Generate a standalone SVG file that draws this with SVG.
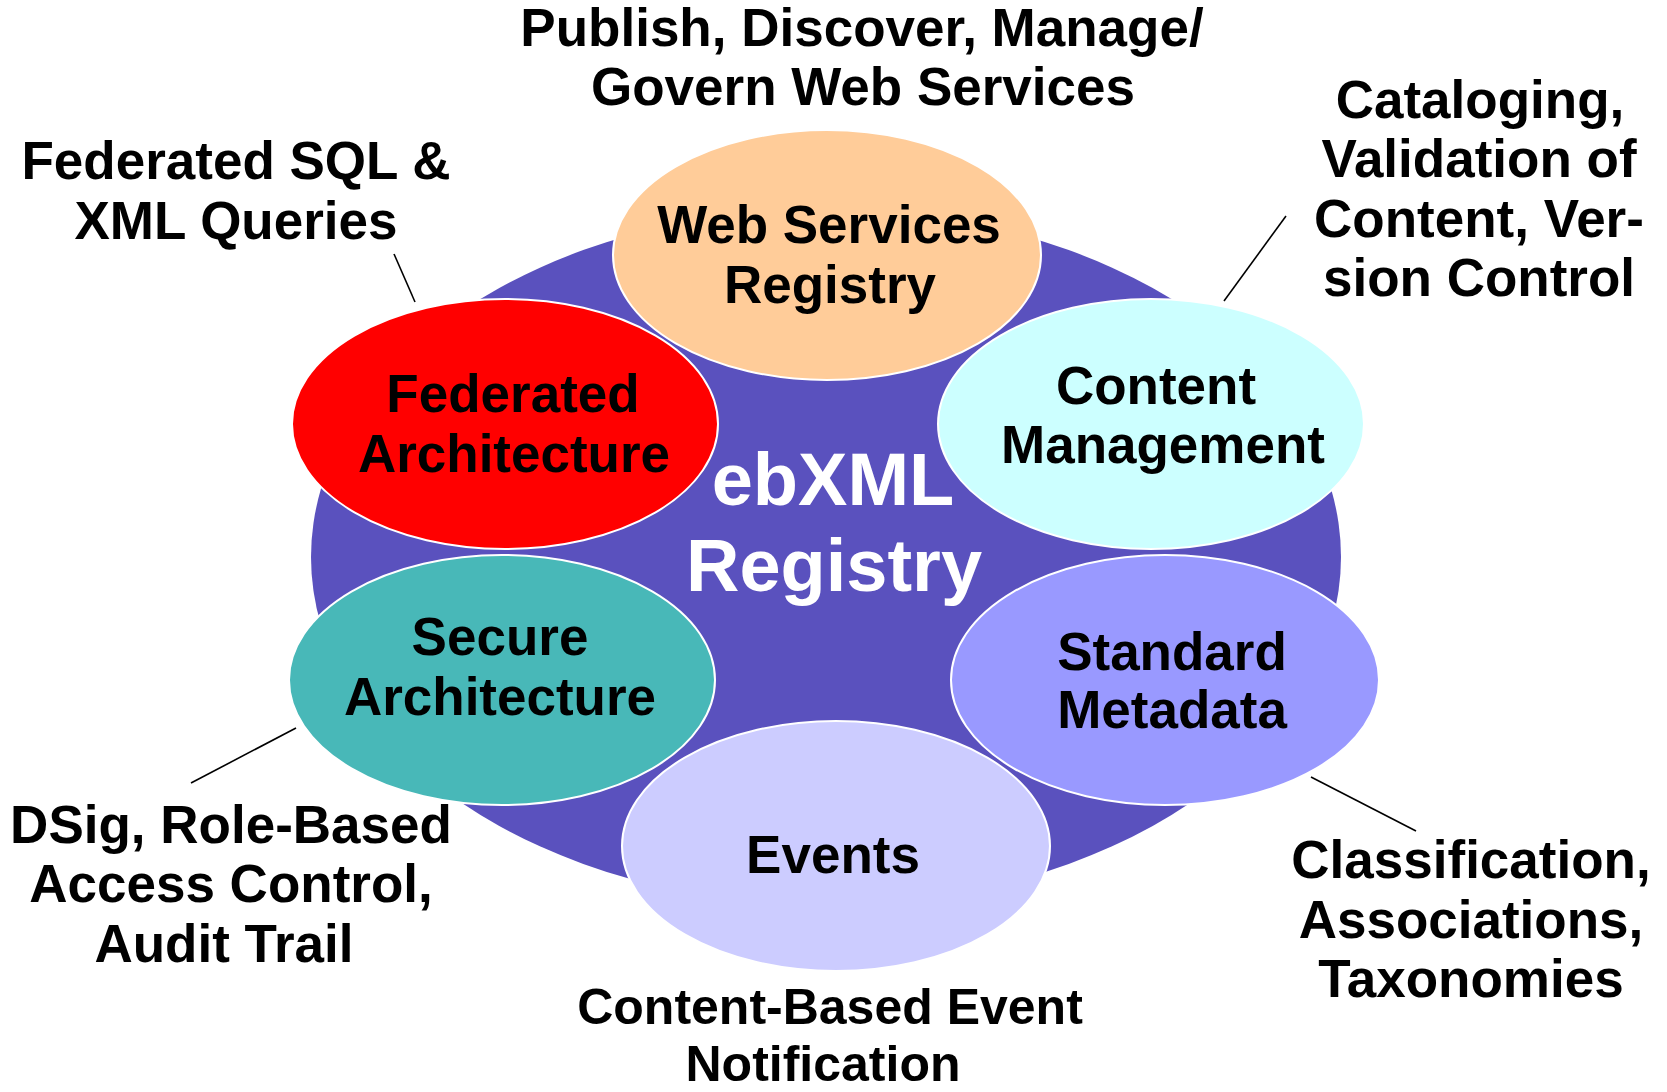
<svg xmlns="http://www.w3.org/2000/svg" width="1667" height="1092" viewBox="0 0 1667 1092">
<style>
text{font-family:"Liberation Sans",Arial,sans-serif;font-weight:bold;text-anchor:middle;fill:#000}
.lbl{font-size:53px}
.lbl-s{font-size:50px}
.node{font-size:53px}
.title{font-size:74px;fill:#fff}
.sub{stroke:#fff;stroke-width:2}
.conn line{stroke:#000;stroke-width:1.6}
</style>
<rect width="1667" height="1092" fill="#fff"/>
<g id="registry">
<ellipse cx="826" cy="557" rx="515" ry="348" fill="#5A51BE"/>
<text class="title" x="833" y="505">ebXML</text>
<text class="title" x="834" y="591">Registry</text>
</g>
<g id="web-services-registry">
<ellipse class="sub" cx="827" cy="255" rx="214" ry="125" fill="#FFCC99"/>
<text class="node" x="829" y="243">Web Services</text>
<text class="node" x="830" y="303">Registry</text>
</g>
<g id="federated-architecture">
<ellipse class="sub" cx="505" cy="424" rx="213" ry="125" fill="#FF0000"/>
<text class="node" x="513" y="412">Federated</text>
<text class="node" x="514" y="472">Architecture</text>
</g>
<g id="content-management">
<ellipse class="sub" cx="1151" cy="424" rx="213" ry="125" fill="#CCFFFF"/>
<text class="node" x="1156" y="404">Content</text>
<text class="node" x="1163" y="463">Management</text>
</g>
<g id="secure-architecture">
<ellipse class="sub" cx="502" cy="680" rx="213" ry="125" fill="#48B8B8"/>
<text class="node" x="500" y="655">Secure</text>
<text class="node" x="500" y="715">Architecture</text>
</g>
<g id="standard-metadata">
<ellipse class="sub" cx="1165" cy="680" rx="214" ry="125" fill="#9999FF"/>
<text class="node" x="1172" y="670">Standard</text>
<text class="node" x="1172" y="728">Metadata</text>
</g>
<g id="events">
<ellipse class="sub" cx="836" cy="846" rx="214" ry="125" fill="#CCCCFF"/>
<text class="node" x="833" y="873">Events</text>
</g>
<g id="connectors" class="conn">
<line x1="394" y1="254" x2="415" y2="302"/>
<line x1="1286" y1="216" x2="1224" y2="301"/>
<line x1="296" y1="728" x2="191" y2="783"/>
<line x1="1311" y1="777" x2="1416" y2="831"/>
</g>
<g id="label-web-services">
<text class="lbl" x="862" y="46">Publish, Discover, Manage/</text>
<text class="lbl" x="863" y="105">Govern Web Services</text>
</g>
<g id="label-federated">
<text class="lbl" x="236" y="179">Federated SQL &amp;</text>
<text class="lbl" x="236" y="239">XML Queries</text>
</g>
<g id="label-content">
<text class="lbl" x="1480" y="118">Cataloging,</text>
<text class="lbl" x="1479" y="177">Validation of</text>
<text class="lbl" x="1479" y="237">Content, Ver-</text>
<text class="lbl" x="1479" y="296">sion Control</text>
</g>
<g id="label-secure">
<text class="lbl" x="231" y="843">DSig, Role-Based</text>
<text class="lbl" x="231" y="902">Access Control,</text>
<text class="lbl" x="224" y="962">Audit Trail</text>
</g>
<g id="label-events">
<text class="lbl-s" x="830" y="1024">Content-Based Event</text>
<text class="lbl-s" x="823" y="1081">Notification</text>
</g>
<g id="label-metadata">
<text class="lbl" x="1471" y="878">Classification,</text>
<text class="lbl" x="1471" y="938">Associations,</text>
<text class="lbl" x="1471" y="997">Taxonomies</text>
</g>
</svg>
